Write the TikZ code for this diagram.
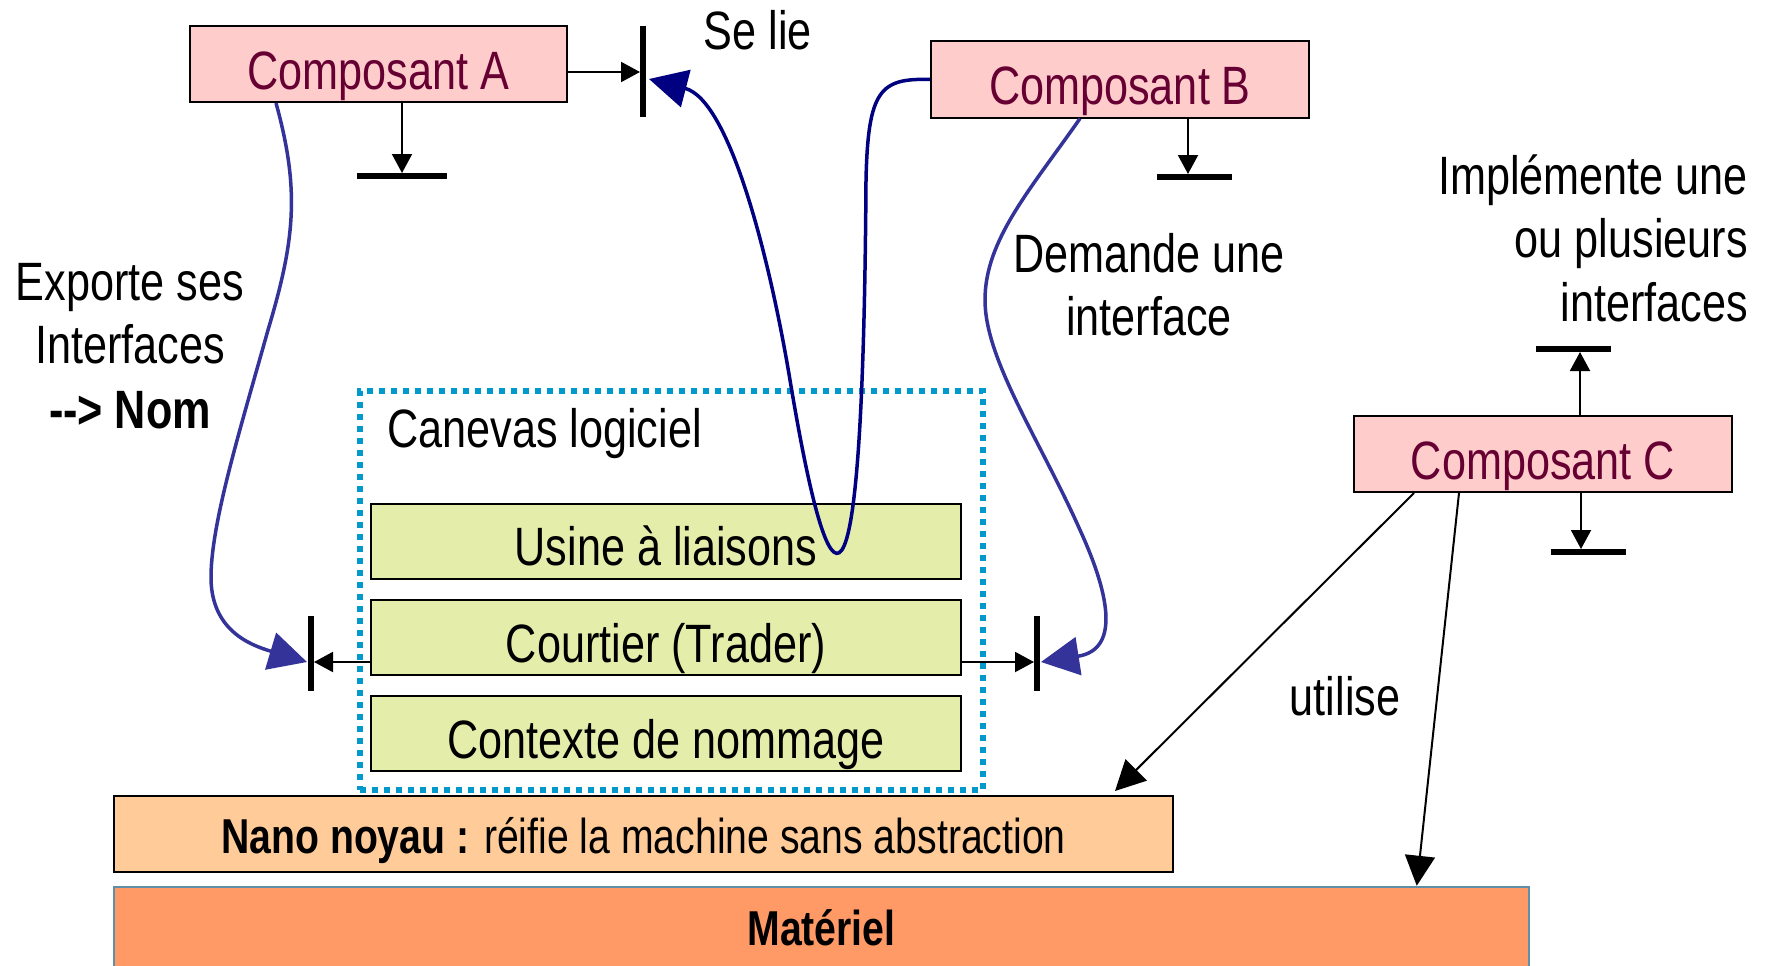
\documentclass[tikz,border=0pt]{standalone}
\usepackage{fontspec}
\setmainfont[FakeStretch=0.8]{Liberation Sans}
\usetikzlibrary{arrows.meta,calc}

\definecolor{pinkfill}{HTML}{FFCCCC}
\definecolor{maroon}{HTML}{660033}
\definecolor{greenfill}{HTML}{E4EEAA}
\definecolor{nanofill}{HTML}{FFCC99}
\definecolor{matfill}{HTML}{FF9966}
\definecolor{dotblue}{HTML}{0099CC}
\definecolor{linknavy}{HTML}{000080}
\definecolor{linkblue}{HTML}{333399}
\definecolor{steel}{HTML}{5F8FA8}

\newcommand\dfont{\fontsize{54pt}{64pt}\selectfont}
\newcommand\lfont{\fontsize{49pt}{58pt}\selectfont}

\begin{document}
\begin{tikzpicture}[x=1pt,y=-1pt,
  comp/.style={draw=black, line width=2pt, fill=pinkfill, text=maroon, font=\dfont,
    inner sep=0pt, minimum width=378pt, text height=63pt, text depth=13pt},
  layer/.style={draw=black, line width=2pt, fill=greenfill, font=\dfont,
    inner sep=0pt, minimum width=590pt, text height=62pt, text depth=13pt},
  lbl/.style={font=\dfont, inner sep=0pt, anchor=base},
  bar/.style={line width=6pt},
  stub/.style={line width=2pt, -{Triangle[length=19pt,width=20pt]}, shorten >=3pt},
  uses/.style={line width=2pt, -{Triangle[length=30pt,width=30pt]}},
  bluelink/.style={draw=linkblue, line width=3.5pt,
    -{Triangle[length=38pt,width=38pt]}, color=linkblue},
  navylink/.style={draw=linknavy, line width=3.5pt,
    -{Triangle[length=38pt,width=38pt]}, color=linknavy}
]
\useasboundingbox (0,0) rectangle (1775,966);
\clip (0,0) rectangle (1775,966);
\fill[white] (0,0) rectangle (1775,966);

% layers at the bottom
\node[draw=steel, line width=2.5pt, fill=matfill, font=\lfont, inner sep=0pt,
  minimum width=1415pt, text height=58pt, text depth=32pt] (mat) at (821.5,932) {\textbf{Matériel}};
\node[draw=black, line width=2pt, fill=nanofill, font=\lfont, inner sep=0pt,
  minimum width=1059pt, text height=57pt, text depth=19pt] (nano) at (643.5,834)
  {\textbf{Nano noyau :} réifie la machine sans abstraction};

% software framework
\node[draw=dotblue, line width=6pt, dash pattern=on 6pt off 6pt, inner sep=0pt,
  minimum width=623pt, minimum height=399pt] (canevas) at (671.5,590.5) {};
\node[lbl, anchor=base west] (canlbl) at (387,447) {Canevas logiciel};
\node[layer] (usine) at (666,541) {Usine à liaisons};
\node[layer] (courtier) at (666,637.5) {Courtier (Trader)};
\node[layer] (contexte) at (666,733.5) {Contexte de nommage};

% components
\node[comp, minimum width=377pt] (A) at (378.5,64) {Composant A};
\node[comp] (B) at (1120,79.5) {Composant B};
\node[comp] (C) at (1543,454) {Composant C};

% interface bars
\coordinate (ta) at (643,72);
\coordinate (tl) at (311,662);
\coordinate (tr) at (1037,662);
\coordinate (sa) at (402,176);
\coordinate (sb) at (1188,177);
\coordinate (cu) at (1580,349);
\coordinate (cd) at (1581,552);

\draw[bar] ($(ta)+(0,-46)$) -- ($(ta)+(0,45)$);
\draw[bar] ($(tl)+(0,-46)$) -- ($(tl)+(0,29)$);
\draw[bar] ($(tr)+(0,-46)$) -- ($(tr)+(0,29)$);
\draw[bar] ($(sa)+(-45,0)$) -- ($(sa)+(45,0)$);
\draw[bar] ($(sb)+(-31,0)$) -- ($(sb)+(44,0)$);
\draw[bar] ($(cu)+(-44,0)$) -- ($(cu)+(31,0)$);
\draw[bar] ($(cd)+(-30,0)$) -- ($(cd)+(45,0)$);

\draw[stub] (A.east |- ta) -- (ta);
\draw[stub] (A.south -| sa) -- (sa);
\draw[stub] (B.south -| sb) -- (sb);
\draw[stub] (C.north -| cu) -- (cu);
\draw[stub] (C.south -| cd) -- (cd);
\draw[stub] (courtier.west |- tl) -- (tl);
\draw[stub] (courtier.east |- tr) -- (tr);

% component C uses the layers
\draw[uses] ($(C.south west)+(61,0)$) -- ($(nano.north east)+(-59,-4)$);
\draw[uses] ($(C.south west)+(106,0)$) -- ($(mat.north west)+(1304,0)$);

% blue relations
\draw[bluelink] ($(A.south west)+(87,0)$) .. controls (300,190) and (295,240) .. (268,330)
  .. controls (240,430) and (212,520) .. (211,575)
  .. controls (210,630) and (250,645) .. ($(tl)+(-4,0)$);
\draw[navylink] (B.west) .. controls (880,78) and (868,90) .. (866,180)
  .. controls (863,660) and (830,620) .. (790,380)
  .. controls (770,260) and (730,100) .. ($(ta)+(6,7)$);
\draw[bluelink] ($(B.south west)+(150,0)$) .. controls (1030,190) and (985,240) .. (985,300)
  .. controls (985,360) and (1040,440) .. (1080,530)
  .. controls (1112,600) and (1118,650) .. ($(tr)+(4,0)$);

% labels
\node[lbl] (selie) at (758,50) {Se lie};
\node[lbl] (exp1) at (130,300) {Exporte ses};
\node[lbl] (exp2) at (130,363) {Interfaces};
\node[lbl] (exp3) at (130,428) {\textbf{-\kern0pt-\kern0pt> Nom}};
\node[lbl] (dem1) at (1149,272) {Demande une};
\node[lbl] (dem2) at (1149,335) {interface};
\node[lbl, anchor=base east] (imp1) at (1748,194) {Implémente une};
\node[lbl, anchor=base east] (imp2) at (1748,257) {ou plusieurs};
\node[lbl, anchor=base east] (imp3) at (1748,321) {interfaces};
\node[lbl] (util) at (1345,715) {utilise};
\end{tikzpicture}
\end{document}
